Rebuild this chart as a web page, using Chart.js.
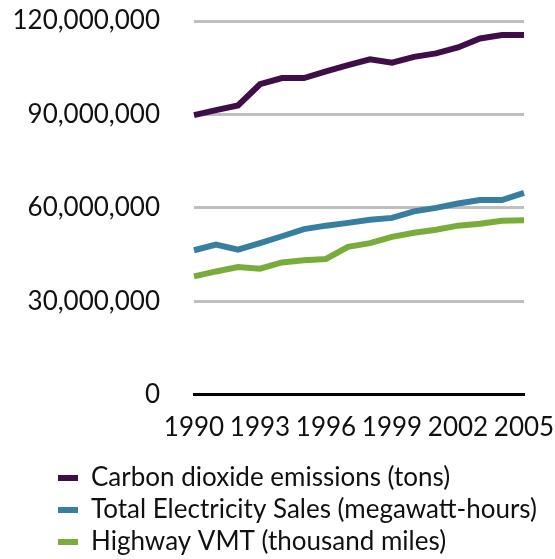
<!DOCTYPE html>
<html>
<head>
<meta charset="utf-8">
<script src="https://cdn.jsdelivr.net/npm/chart.js@4"></script>
<style>
  html, body { margin: 0; padding: 0; background: #fff; }
  #wrap { width: 555px; height: 559px; }
</style>
</head>
<body>
<div id="wrap"><canvas id="myChart"></canvas></div>
<script>
const years = ['1990', '1991', '1992', '1993', '1994', '1995', '1996', '1997',
    '1998', '1999', '2000', '2001', '2002', '2003', '2004', '2005'];

// values in tons / MWh / thousand miles
const co2 = [89.8, 91.4, 92.9, 99.7, 101.7, 101.7, 103.8, 105.8,
    107.7, 106.6, 108.5, 109.6, 111.5, 114.4, 115.5, 115.5].map(v => v * 1e6);
const electricity = [46.4, 48.2, 46.6, 48.7, 50.9, 53.2, 54.3, 55.2,
    56.2, 56.8, 58.9, 60.0, 61.4, 62.5, 62.5, 64.8].map(v => v * 1e6);
const vmt = [38.0, 39.6, 41.0, 40.5, 42.5, 43.2, 43.6, 47.5,
    48.7, 50.7, 52.0, 53.0, 54.3, 54.9, 55.9, 56.0].map(v => v * 1e6);

const yTicks = [0, 30000000, 60000000, 90000000, 120000000];

const fontFamily = 'Lato, "Open Sans", sans-serif';

// move legend rows right and down a bit
const legendShift = {
    id: 'legendShift',
    afterLayout(chart) {
        const lg = chart.legend;
        lg.left += 52;
        lg.right += 31;
        lg.top += 7;
        lg.bottom += 7;
    }
};

const ctxLine = document.getElementById('myChart');

new Chart(ctxLine, {
    type: 'line',
    data: {
        labels: years,
        datasets: [{
                label: 'Carbon dioxide emissions (tons)',
                data: co2,
                borderColor: '#3f0e48',
                backgroundColor: '#3f0e48',
                borderWidth: 6
            },
            {
                label: 'Total Electricity Sales (megawatt-hours)',
                data: electricity,
                borderColor: '#377fa1',
                backgroundColor: '#377fa1',
                borderWidth: 6
            },
            {
                label: 'Highway VMT (thousand miles)',
                data: vmt,
                borderColor: '#79ad3a',
                backgroundColor: '#79ad3a',
                borderWidth: 6
            }
        ]
    },
    plugins: [legendShift],
    options: {
        responsive: true,
        maintainAspectRatio: false,
        animation: false,
        layout: {
            padding: { top: 21, right: 31, left: 0, bottom: 1 }
        },
        elements: {
            point: { radius: 0 },
            line: { tension: 0, borderCapStyle: 'butt', borderJoinStyle: 'miter' }
        },
        scales: {
            x: {
                afterFit: scale => {
                    scale.paddingLeft = 0;
                    scale.paddingRight = 0;
                    scale.height = scale.height - 8;
                },
                grid: { display: false, drawTicks: false },
                border: { display: true, color: '#000', width: 3 },
                ticks: {
                    autoSkip: false,
                    maxRotation: 0,
                    padding: 17,
                    color: '#111',
                    font: { family: fontFamily, size: 26 },
                    callback: function (val, index) {
                        return index % 3 === 0 ? this.getLabelForValue(val) : '';
                    }
                }
            },
            y: {
                min: 0,
                max: 120000000,
                afterFit: scale => {
                    scale.width = 194;
                    scale.paddingTop = 0;
                    scale.paddingBottom = 0;
                },
                afterBuildTicks: scale => {
                    scale.ticks = yTicks.map(v => ({ value: v }));
                },
                grid: { color: '#bfbfbf', lineWidth: 3, drawTicks: false },
                border: { display: false },
                ticks: {
                    padding: 34,
                    color: '#111',
                    font: { family: fontFamily, size: 26 },
                    callback: v => v.toLocaleString('en-US')
                }
            }
        },
        plugins: {
            legend: {
                position: 'bottom',
                align: 'start',
                labels: {
                    boxWidth: 20,
                    boxHeight: 0,
                    padding: 6,
                    color: '#111',
                    font: { family: fontFamily, size: 26 }
                }
            },
            tooltip: { enabled: false }
        }
    }
});
</script>
</body>
</html>
